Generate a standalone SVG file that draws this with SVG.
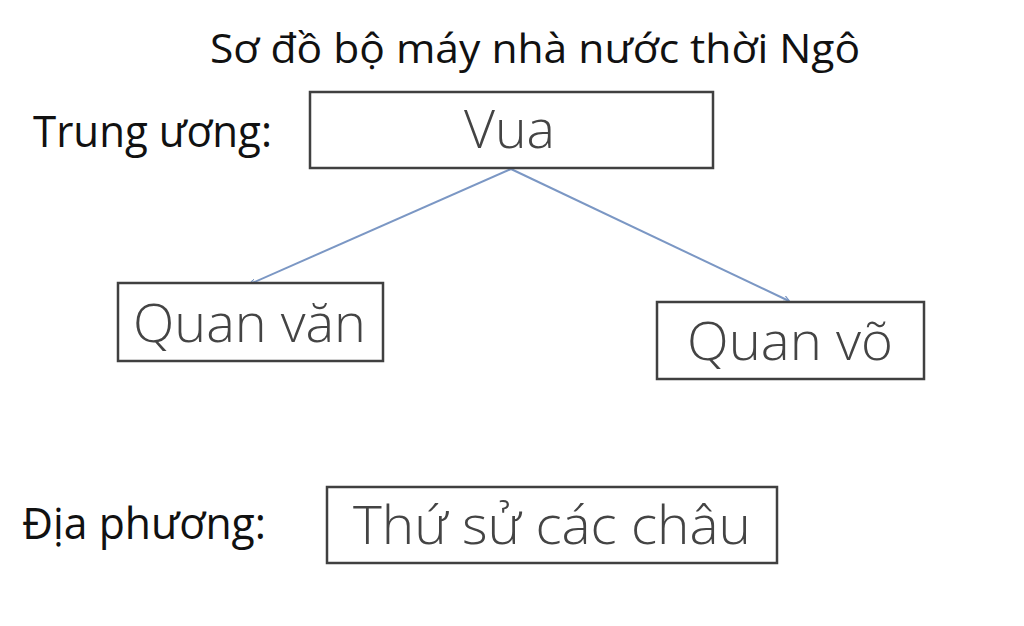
<svg xmlns="http://www.w3.org/2000/svg" width="1024" height="626" viewBox="0 0 1024 626">
<style>
.box{fill:#fff;stroke:#404040;stroke-width:2.5}
.lbl{font-family:"Open Sans","Liberation Sans",sans-serif;fill:#111;font-size:44px}
.nt{font-family:"Open Sans","Liberation Sans",sans-serif;fill:#444;font-size:54px;font-weight:300}
.con{stroke:#7b97c4;stroke-width:2;fill:none;marker-end:url(#ah)}
</style>
<defs>
<marker id="ah" viewBox="0 0 10 10" refX="9" refY="5" markerWidth="6" markerHeight="6" orient="auto" markerUnits="userSpaceOnUse">
<path d="M0,0 L10,5 L0,10" fill="none" stroke="#7b97c4" stroke-width="2"/>
</marker>
</defs>
<rect width="1024" height="626" fill="#fff"/>
<text class="lbl" x="210" y="63" textLength="650" lengthAdjust="spacingAndGlyphs" style="font-size:40px">Sơ đồ bộ máy nhà nước thời Ngô</text>
<text class="lbl" x="33" y="147" textLength="239" lengthAdjust="spacingAndGlyphs">Trung ương:</text>
<text class="lbl" x="22" y="539" textLength="244" lengthAdjust="spacingAndGlyphs">Địa phương:</text>
<g id="connectors">
<line class="con" x1="511" y1="169" x2="250" y2="284"/>
<line class="con" x1="511" y1="169" x2="789" y2="301"/>
</g>
<g id="vua">
<rect class="box" x="310" y="92" width="403" height="76"/>
<text class="nt" x="464" y="148" textLength="91" lengthAdjust="spacingAndGlyphs">Vua</text>
</g>
<g id="quanvan">
<rect class="box" x="118" y="283" width="265" height="78"/>
<text class="nt" x="133" y="342" textLength="233" lengthAdjust="spacingAndGlyphs">Quan văn</text>
</g>
<g id="quanvo">
<rect class="box" x="657" y="302" width="267" height="77"/>
<text class="nt" x="687" y="360" textLength="206" lengthAdjust="spacingAndGlyphs">Quan võ</text>
</g>
<g id="thusu">
<rect class="box" x="327" y="487" width="450" height="76"/>
<text class="nt" x="353" y="544" textLength="398" lengthAdjust="spacingAndGlyphs">Thứ sử các châu</text>
</g>
</svg>
